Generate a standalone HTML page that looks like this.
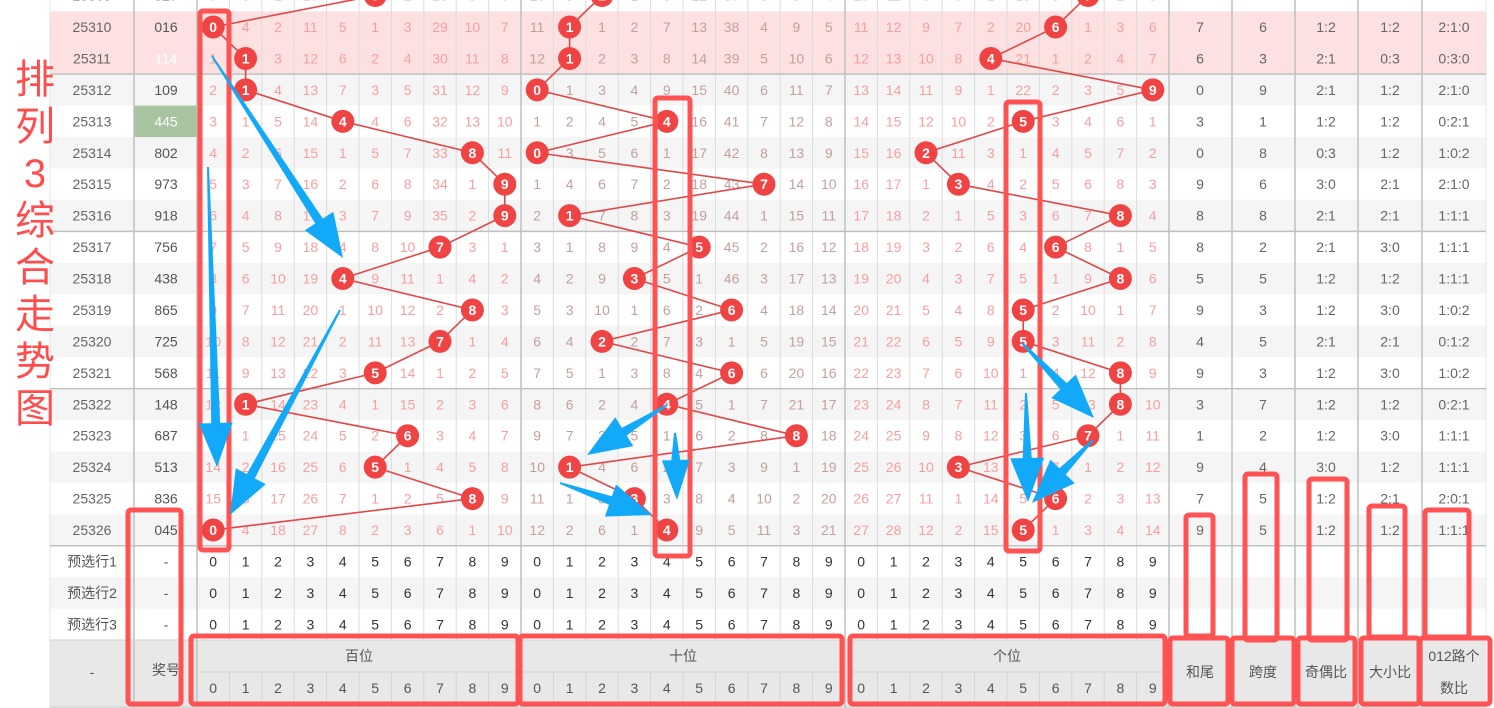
<!DOCTYPE html>
<html><head><meta charset="utf-8">
<style>
html,body{margin:0;padding:0;background:#fff;width:1494px;height:708px;overflow:hidden}
svg{display:block}
text{font-family:"Liberation Sans","Noto Sans CJK SC",sans-serif}
</style></head>
<body>
<svg id="s" width="1494" height="708" xmlns="http://www.w3.org/2000/svg"></svg>
<script>
const S=document.getElementById('s');let h='';
const P=31.44, y0=27, top0=11.3;
const rowY=i=>y0+i*P, rowT=i=>top0+i*P;
const issues=[];for(let i=0;i<17;i++)issues.push(25310+i);
const draws=['016','114','109','445','802','973','918','756','438','865','725','568','148','687','513','836','045'];
const secX=[197,521,845];const cw=32.4;
const cx=(s,d)=>secX[s]+cw*d+cw/2;
// initial misses row 25310
const init=[[0,4,2,11,5,1,3,29,10,7],[11,0,1,2,7,13,38,4,9,5],[11,12,9,7,2,20,0,1,3,6]];
// compute
const miss=[];let cur=init.map(a=>a.slice());
miss.push(cur.map(a=>a.slice()));
for(let i=1;i<17;i++){const d=draws[i];cur=cur.map((a,s)=>a.map((v,k)=>k==+d[s]?0:v+1));miss.push(cur.map(a=>a.slice()));}
// backgrounds
for(let i=-1;i<17;i++){
 let bg;
 if(i==0||i==1)bg='#fde0e0';else if(i==-1)bg='#fff';else bg=(i%2==0)?'#f5f5f5':'#fff';
 h+=`<rect x="50" y="${rowT(i)}" width="1436" height="${P}" fill="${bg}"/>`;
}
// preselect rows
const pre=[[546,577.4,'#fff'],[577.4,608.8,'#f5f5f5'],[608.8,640,'#fff']];
pre.forEach(p=>h+=`<rect x="50" y="${p[0]}" width="1436" height="${p[1]-p[0]}" fill="${p[2]}"/>`);
// header
h+=`<rect x="50" y="640" width="1436" height="68" fill="#e8e8e8"/>`;
// green award cell
h+=`<rect x="134" y="${rowT(3)}" width="63" height="${P}" fill="#a8c3a0"/>`;
// grid verticals
for(let s=0;s<3;s++)for(let k=1;k<10;k++){const x=secX[s]+cw*k;h+=`<line x1="${x}" y1="0" x2="${x}" y2="640" stroke="#dcdcdc"/><line x1="${x}" y1="672" x2="${x}" y2="708" stroke="#d4d4d4"/>`;}
[134,197,521,845,1169,1232,1295,1358,1422].forEach(x=>{h+=`<line x1="${x}" y1="0" x2="${x}" y2="708" stroke="#c0c0c0" stroke-width="1.5"/>`});
h+=`<line x1="50" y1="0" x2="50" y2="708" stroke="#e4e4e4"/>`;
h+=`<line x1="1486" y1="0" x2="1486" y2="708" stroke="#e4e4e4"/>`;
[rowT(2),rowT(7),rowT(12),rowT(17)].forEach(y=>h+=`<line x1="50" y1="${y}" x2="1486" y2="${y}" stroke="#c0c0c0" stroke-width="1.5"/>`);
h+=`<line x1="50" y1="640" x2="1486" y2="640" stroke="#d0d0d0"/>`;
h+=`<line x1="197" y1="672" x2="1169" y2="672" stroke="#d4d4d4"/>`;
h+=`<line x1="50" y1="707" x2="1486" y2="707" stroke="#d0d0d0"/>`;
const T=(x,y,t,c,sz=14,extra='')=>`<text x="${x}" y="${y}" fill="${c}" font-size="${sz}" text-anchor="middle" dominant-baseline="central" ${extra}>${t}</text>`;
// top partial row 25309 (527)
{const y=rowY(-1);h+=T(92,y,'25309','#666')+T(166,y,'527','#666');
 const pd=[5,2,7];
 for(let s=0;s<3;s++)for(let k=0;k<10;k++){if(k==pd[s])continue;let v=init[s][k]==0?9:init[s][k]-1;h+=T(cx(s,k),y,v,s==1?'#c4a09c':'#f5a0a0');}
}
// rows
const balls=[[],[],[]];
balls[0].push([cx(0,5),rowY(-1)]);balls[1].push([cx(1,2),rowY(-1)]);balls[2].push([cx(2,7),rowY(-1)]);
for(let i=0;i<17;i++){
 const y=rowY(i),d=draws[i];
 h+=T(92,y,issues[i],'#666');
 h+=T(166,y,d,(i==1||i==3)?'#fff':'#555');
 for(let s=0;s<3;s++)for(let k=0;k<10;k++){
  if(k==+d[s]){balls[s].push([cx(s,k),y,k]);}
  else h+=T(cx(s,k),y,miss[i][s][k],s==1?'#c4a09c':'#f5a0a0');
 }
 const n=d.split('').map(Number);const sum=n[0]+n[1]+n[2];
 const odd=n.filter(v=>v%2).length, big=n.filter(v=>v>=5).length;
 const m=[0,0,0];n.forEach(v=>m[v%3]++);
 h+=T(1200,y,sum%10,'#666')+T(1263,y,Math.max(...n)-Math.min(...n),'#666')+T(1326,y,odd+':'+(3-odd),'#666')+T(1390,y,big+':'+(3-big),'#666')+T(1454,y,m.join(':'),'#666');
}
// preselect text
['预选行1','预选行2','预选行3'].forEach((t,j)=>{const y=(pre[j][0]+pre[j][1])/2;h+=T(92,y,t,'#555')+T(166,y,'-','#555');for(let s=0;s<3;s++)for(let k=0;k<10;k++)h+=T(cx(s,k),y,k,'#333');});
// header text
h+=T(92,672,'-','#555')+T(166,670,'奖号','#555');
['百位','十位','个位'].forEach((t,s)=>{h+=T(secX[s]+162,656,t,'#555');for(let k=0;k<10;k++)h+=T(cx(s,k),688,k,'#555');});
h+=T(1200,672,'和尾','#555')+T(1263,672,'跨度','#555')+T(1326,672,'奇偶比','#555')+T(1390,672,'大小比','#555')+T(1454,656,'012路个','#555')+T(1454,688,'数比','#555');
// connector lines and balls
for(let s=0;s<3;s++){let b=balls[s];let pts=b.map(p=>p[0]+','+p[1]).join(' ');h+=`<polyline points="${pts}" fill="none" stroke="#e04848" stroke-width="1.6"/>`;}
for(let s=0;s<3;s++){balls[s].forEach((p,j)=>{const k=j==0?[5,2,7][s]:p[2];h+=`<circle cx="${p[0]}" cy="${p[1]}" r="11.5" fill="#f04444"/>`+T(p[0],p[1],k,'#fff',14,'font-weight="bold"');});}
// title
'排列3综合走势图'.split('').forEach((c,j)=>{h+=T(35,80+j*47,c,'#ff4d4d',40);});
// red boxes
const R=(x1,y1,x2,y2)=>h+=`<rect x="${x1}" y="${y1}" width="${x2-x1}" height="${y2-y1}" rx="3" fill="none" stroke="#ff5252" stroke-width="5"/>`;
R(200,11,229,550);R(655,98,690,556);R(1006,102,1040,551);R(128,510,181,704);
R(191,636,518,704);R(520,636,842,704);R(850,636,1165,704);
R(1186,515,1213,636);R(1245,474,1277,640);R(1309,479,1347,640);R(1369,506,1405,637);R(1425,510,1469,637);
R(1170,638,1228,704);R(1232,638,1294,704);R(1298,638,1355,704);R(1361,638,1419,704);R(1420,638,1490,704);
// arrows
function A(x1,y1,x2,y2,hl=44,hw=17){const dx=x2-x1,dy=y2-y1,L=Math.hypot(dx,dy),ux=dx/L,uy=dy/L,nx=-uy,ny=ux;
 const bx=x2-ux*hl,by=y2-uy*hl,nb=x2-ux*(hl*0.8),nby=y2-uy*(hl*0.8);
 const p=[[x1+nx*1,y1+ny*1],[bx+nx*4.5,by+ny*4.5],[bx+nx*hw,by+ny*hw],[x2,y2],[bx-nx*hw,by-ny*hw],[bx-nx*4.5,by-ny*4.5],[x1-nx*1,y1-ny*1]];
 h+=`<polygon points="${p.map(q=>q[0].toFixed(1)+','+q[1].toFixed(1)).join(' ')}" fill="#12aaf8"/>`;}
A(212,56,343,258);A(208,167,217,467);A(340,310,230,515);
A(667,405,587,455);A(675,433,677,500,40,14);A(560,483,652,515);
A(1022,343,1094,418);A(1026,393,1028,502);A(1093,440,1032,503);
S.innerHTML=h;
</script>
</body></html>
